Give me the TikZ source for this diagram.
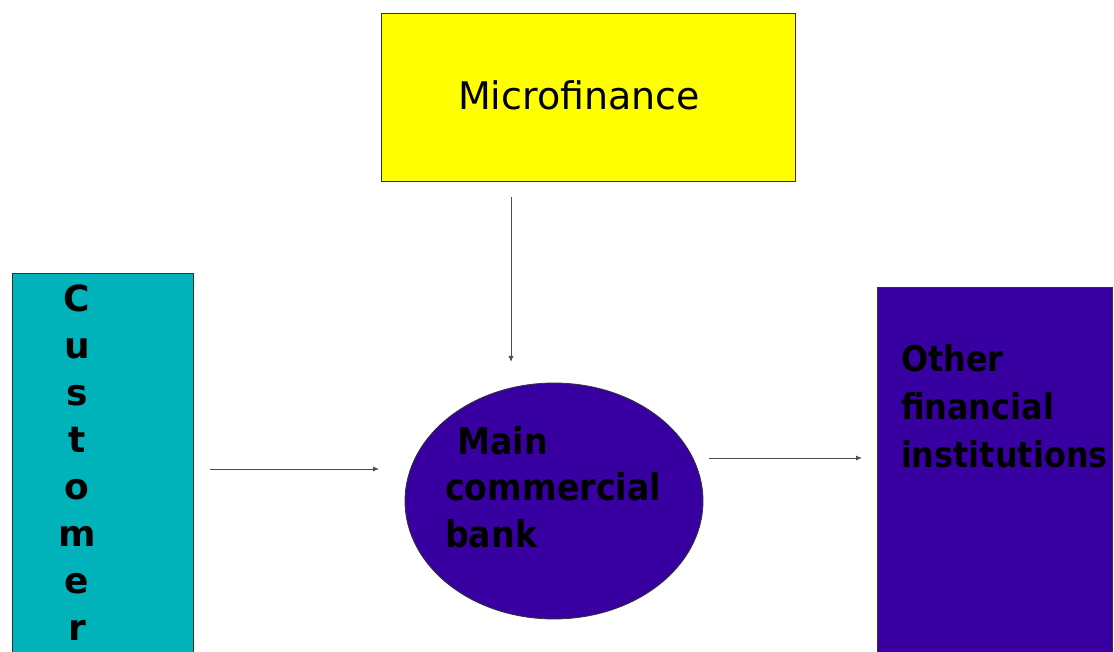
\documentclass[tikz,border=0pt]{standalone}
\usepackage{fontspec}
\setmainfont{DejaVu Sans}
\newfontfamily\condfont{DejaVu Sans Condensed}
\usetikzlibrary{arrows.meta,shapes.geometric,calc}
\definecolor{teal1}{RGB}{0,179,186}
\definecolor{indigo1}{RGB}{56,0,160}
\definecolor{yell}{RGB}{255,255,0}
\begin{document}
\begin{tikzpicture}[x=1pt,y=-1pt,
  boxshape/.style={draw=black!80,line width=0.8pt,inner sep=0,outer sep=0},
  lbl/.style={text=black,inner sep=0,outer sep=0},
  arr/.style={draw=black!70,line width=0.9pt,-{Latex[length=6pt,width=5pt]}}]
\useasboundingbox (0,0) rectangle (1114,652);
% shapes
\node[boxshape,fill=yell,minimum width=414,minimum height=168] (mf) at (588,97) {};
\node[lbl,font=\fontsize{38}{44}\selectfont] (mft) at (579,95) {Microfinance};
\node[boxshape,fill=teal1,minimum width=181,minimum height=390,anchor=north west] (cust) at (12,273) {};
\node[lbl,font=\bfseries\fontsize{36}{47}\selectfont,align=center,anchor=north] (custt) at (77,285)
  {C\\u\\s\\t\\o\\m\\e\\r};
\node[boxshape,fill=indigo1,ellipse,minimum width=298,minimum height=236] (bank) at (554,501) {};
\node[lbl,font=\condfont\bfseries\fontsize{37}{46.5}\selectfont,align=left,anchor=north west] (bankt) at (445,426)
  {\hspace*{12pt}Main\\commercial\\bank};
\node[boxshape,fill=indigo1,minimum width=235,minimum height=380,anchor=north west] (oth) at (877,287) {};
\node[lbl,font=\condfont\bfseries\fontsize{35.5}{48}\selectfont,align=left,anchor=north west] (otht) at (901,345)
  {Other\\financial\\institutions};
% connectors
\draw[arr] ([xshift=-77pt,yshift=-16pt]mf.south) -- ([xshift=-43pt,yshift=21pt]bank.north);
\draw[arr] ([xshift=17pt,yshift=-1pt]cust.east) -- ([xshift=-26pt,yshift=32pt]bank.west);
\draw[arr] ([xshift=6pt,yshift=43pt]bank.east) -- ([xshift=-15pt,yshift=19pt]oth.west);
\end{tikzpicture}
\end{document}
